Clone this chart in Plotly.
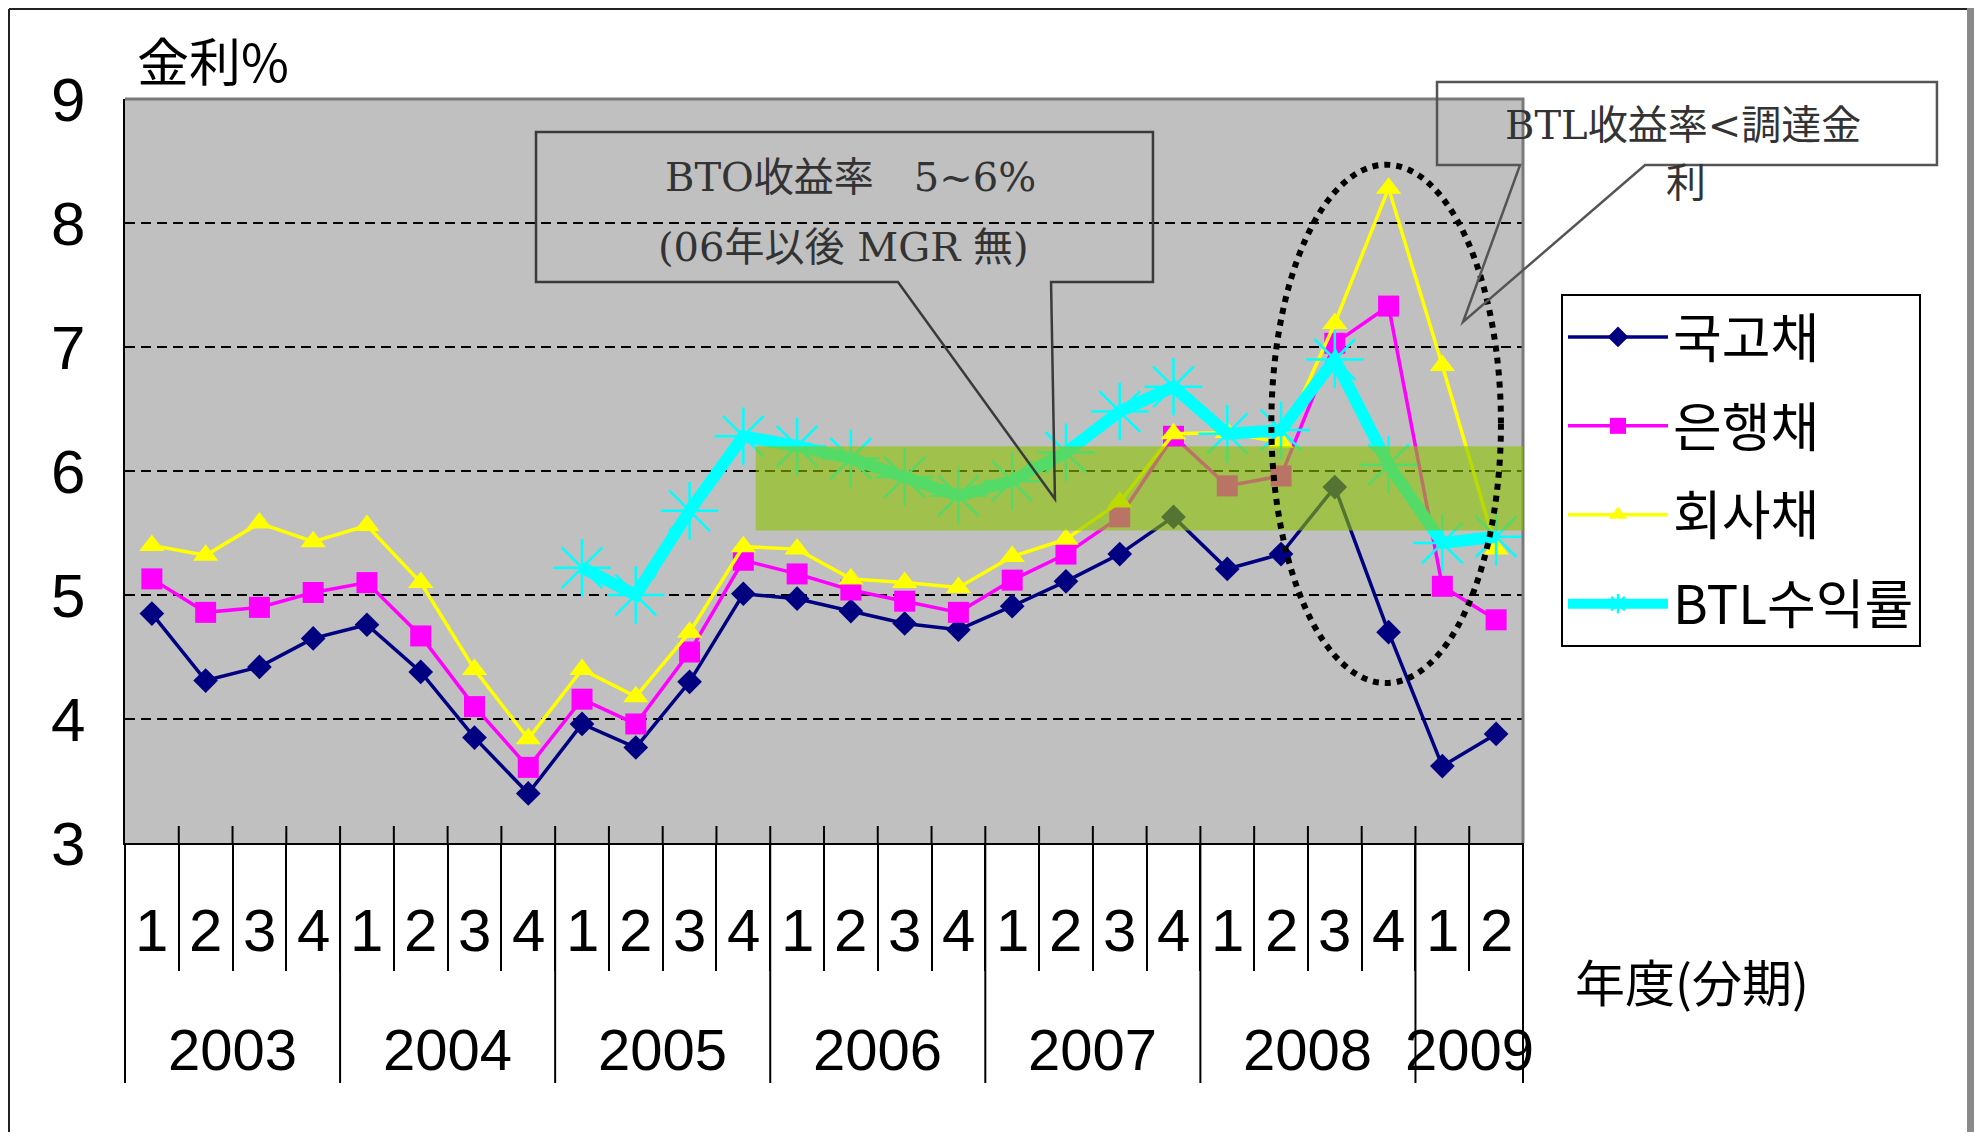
import plotly.graph_objects as go

# ---------------- data ----------------
quarters = ["1", "2", "3", "4"] * 6 + ["1", "2"]
years = ["2003", "2004", "2005", "2006", "2007", "2008", "2009"]
year_counts = [4, 4, 4, 4, 4, 4, 2]

gov = [4.85, 4.31, 4.42, 4.65, 4.76, 4.38, 3.85, 3.40,
       3.96, 3.77, 4.30, 5.01, 4.97, 4.87, 4.77, 4.72,
       4.91, 5.11, 5.33, 5.63, 5.21, 5.33, 5.87, 4.70,
       3.62, 3.88]
bank = [5.13, 4.86, 4.90, 5.02, 5.10, 4.67, 4.10, 3.61,
        4.16, 3.96, 4.54, 5.28, 5.17, 5.04, 4.95, 4.86,
        5.12, 5.33, 5.63, 6.28, 5.88, 5.96, 7.03, 7.33,
        5.07, 4.80]
corp = [5.40, 5.32, 5.58, 5.43, 5.56, 5.10, 4.40, 3.84,
        4.40, 4.18, 4.70, 5.39, 5.37, 5.13, 5.10, 5.06,
        5.31, 5.45, 5.75, 6.30, 6.31, 6.23, 7.19, 8.28,
        6.85, 5.37]
btl = [None] * 8 + [5.22, 5.00, 5.68, 6.28, 6.20, 6.10, 5.95, 5.80,
                    5.92, 6.15, 6.48, 6.68, 6.30, 6.33, 6.90, 6.05,
                    5.42, 5.47]

series_names = ["국고채", "은행채", "회사채", "BTL수익률"]
y_ticks = [3, 4, 5, 6, 7, 8, 9]

band_range = (5.52, 6.20)     # BTO 收益率 5~6% band
band_start = 11.23

# ---------------- layout geometry (screen px; page body has an 8px margin) ----------------
OFF = 8
W, H = 1982 - 2 * OFF, 1140 - 2 * OFF
PL, PT, PW, PH = 125, 99, 1398, 744          # plot area on screen
L, T = PL - OFF, PT - OFF
R, B = W - L - PW, H - T - PH
x_idx = list(range(len(quarters)))
XMIN, XMAX = -0.5, len(quarters) - 0.5


def px(x):
    return (x - PL) / PW


def py(y):
    return (PT + PH - y) / PH


def xd(v):
    return (v - XMIN) / (XMAX - XMIN)


DIGIT = "Liberation Sans, Arial, sans-serif"
CJK = "Noto Sans CJK JP, Noto Sans CJK SC, sans-serif"
KR = "Noto Sans CJK KR, Noto Sans CJK JP, sans-serif"
CALL = "DejaVu Serif, Noto Sans CJK JP, serif"

fig = go.Figure()

fig.add_trace(go.Scatter(
    x=x_idx, y=gov, name=series_names[0], mode="lines+markers",
    line=dict(color="#000080", width=3.5),
    marker=dict(symbol="diamond", size=19, color="#000080"),
    legendgroup="a"))
fig.add_trace(go.Scatter(
    x=x_idx, y=bank, name=series_names[1], mode="lines+markers",
    line=dict(color="#FF00FF", width=3.5),
    marker=dict(symbol="square", size=21, color="#FF00FF"),
    legendgroup="b"))
fig.add_trace(go.Scatter(
    x=x_idx, y=corp, name=series_names[2], mode="lines+markers",
    line=dict(color="#FFFF00", width=3.5),
    marker=dict(symbol="triangle-up", size=22, color="#FFFF00"),
    legendgroup="c"))
fig.add_trace(go.Scatter(
    x=x_idx, y=btl, name=series_names[3], mode="lines+markers",
    line=dict(color="#00FFFF", width=12),
    marker=dict(symbol="asterisk-open", size=48,
                line=dict(color="#40E8E8", width=2.5)),
    legendgroup="d"))

shapes = []
# outer slide frame
shapes += [
    dict(type="rect", xref="paper", yref="paper", x0=px(1967), x1=px(1982), y0=py(1140), y1=py(0),
         fillcolor="#8a8a8a", line=dict(width=0), layer="above"),
    dict(type="line", xref="paper", yref="paper", x0=px(9), x1=px(9), y0=py(1140), y1=py(9),
         line=dict(color="#222222", width=2), layer="above"),
    dict(type="line", xref="paper", yref="paper", x0=px(9), x1=px(1967), y0=py(9), y1=py(9),
         line=dict(color="#222222", width=2), layer="above"),
]
# top / right border of plot area
shapes.append(dict(type="path", xref="paper", yref="paper",
                   path="M 0,1 L 1,1 L 1,0", line=dict(color="#7a7a7a", width=3),
                   layer="above"))
# year dividers below the axis and short tick stubs above it
bounds = [0]
for c in year_counts:
    bounds.append(bounds[-1] + c)
for k in bounds:
    top = 0 if k in (0, bounds[-1]) else py(826)
    shapes.append(dict(type="line", xref="paper", yref="paper",
                       x0=xd(k - 0.5), x1=xd(k - 0.5), y0=top, y1=py(1083),
                       line=dict(color="black", width=2), layer="above"))
for k in range(1, len(quarters)):
    if k in bounds:
        continue
    shapes.append(dict(type="line", xref="paper", yref="paper",
                       x0=xd(k - 0.5), x1=xd(k - 0.5), y0=0, y1=py(826),
                       line=dict(color="black", width=2), layer="above"))
# green band
shapes.append(dict(type="rect", xref="x", yref="y",
                   x0=band_start, x1=XMAX, y0=band_range[0], y1=band_range[1],
                   fillcolor="rgba(140,194,0,0.6)", line=dict(width=0), layer="above"))
# dotted ellipse
shapes.append(dict(type="circle", xref="x", yref="y",
                   x0=20.82, x1=25.09, y0=4.29, y1=8.47,
                   line=dict(color="black", width=6, dash="dot"), layer="above"))
# callout 1
c1 = [(536, 132), (1153, 132), (1153, 282), (1051, 282), (1055, 499), (898, 282), (536, 282)]
shapes.append(dict(type="path", xref="paper", yref="paper",
                   path="M " + " L ".join(f"{px(a):.4f},{py(b):.4f}" for a, b in c1) + " Z",
                   line=dict(color="#3a3a3a", width=2.5), layer="above"))
# callout 2
c2 = [(1437, 82), (1937, 82), (1937, 165), (1645, 165), (1463, 322), (1520, 165), (1437, 165)]
shapes.append(dict(type="path", xref="paper", yref="paper",
                   path="M " + " L ".join(f"{px(a):.4f},{py(b):.4f}" for a, b in c2) + " Z",
                   line=dict(color="#555555", width=2.5), layer="above"))

annotations = []
for i, q in enumerate(quarters):
    annotations.append(dict(x=i, xref="x", y=py(931), yref="paper", text=q,
                            showarrow=False, font=dict(family=DIGIT, size=60, color="black"),
                            xanchor="center", yanchor="middle"))
start = 0
for yr, c in zip(years, year_counts):
    annotations.append(dict(x=start + (c - 1) / 2, xref="x", y=py(1049), yref="paper", text=yr,
                            showarrow=False, font=dict(family=DIGIT, size=58, color="black"),
                            xanchor="center", yanchor="middle"))
    start += c

annotations += [
    dict(x=px(213), y=py(60), xref="paper", yref="paper", text="金利%", showarrow=False,
         font=dict(family=CJK, size=52, color="black"), xanchor="center", yanchor="middle"),
    dict(x=px(1692), y=py(980), xref="paper", yref="paper", text="年度(分期)", showarrow=False,
         font=dict(family=CJK, size=50, color="black"), xanchor="center", yanchor="middle"),
    dict(x=px(850), y=py(177), xref="paper", yref="paper", text="BTO收益率　5~6%", showarrow=False,
         font=dict(family=CALL, size=40, color="#333333"), xanchor="center", yanchor="middle"),
    dict(x=px(843), y=py(247), xref="paper", yref="paper", text="(06年以後 MGR 無)", showarrow=False,
         font=dict(family=CALL, size=40, color="#333333"), xanchor="center", yanchor="middle"),
    dict(x=px(1683), y=py(125), xref="paper", yref="paper", text="BTL收益率<調達金", showarrow=False,
         font=dict(family=CALL, size=40, color="#333333"), xanchor="center", yanchor="middle"),
    dict(x=px(1686), y=py(183), xref="paper", yref="paper", text="利", showarrow=False,
         font=dict(family=CALL, size=40, color="#333333"), xanchor="center", yanchor="middle"),
]

fig.update_layout(
    width=W, height=H,
    margin=dict(l=L, r=R, t=T, b=B, pad=0),
    paper_bgcolor="white", plot_bgcolor="#C0C0C0",
    shapes=shapes, annotations=annotations,
    showlegend=True,
    legend=dict(x=px(1561), y=py(294), xanchor="left", yanchor="top",
                bgcolor="white", bordercolor="black", borderwidth=2,
                font=dict(family=KR, size=53, color="black"),
                itemwidth=100, tracegroupgap=17, traceorder="grouped"),
    xaxis=dict(range=[XMIN, XMAX], showgrid=False, zeroline=False,
               showline=True, linecolor="black", linewidth=2,
               tickmode="array", tickvals=[k - 0.5 for k in range(len(quarters) + 1)],
               ticks="outside", ticklen=126, tickwidth=2, tickcolor="black",
               showticklabels=False, fixedrange=True),
    yaxis=dict(range=[3, 9], tickmode="array", tickvals=y_ticks,
               ticktext=[str(v) for v in y_ticks],
               showgrid=True, gridcolor="black", gridwidth=2, griddash="10px,6px",
               zeroline=False, showline=True, linecolor="black", linewidth=2,
               ticks="", ticklabelstandoff=25,
               tickfont=dict(family=DIGIT, size=62, color="black"), fixedrange=True),
)

fig.write_html("out.html")
